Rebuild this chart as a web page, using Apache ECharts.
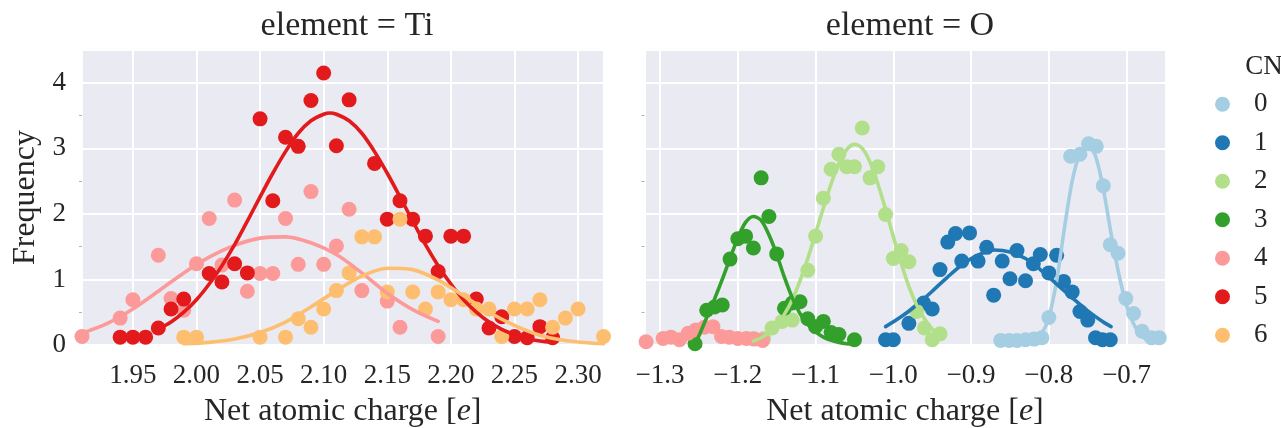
<!DOCTYPE html>
<html>
<head>
<meta charset="utf-8">
<script src="https://cdn.jsdelivr.net/npm/echarts@6/dist/echarts.min.js"></script>
<style>
  html, body { margin: 0; padding: 0; background: #ffffff; }
  #chart { width: 1281px; height: 428px; }
</style>
</head>
<body>
<div id="chart"></div>
<script>
// Net atomic charge histograms (frequency) per coordination number (CN),
// with fitted curves, for Ti and O atoms.

const cnLabels = ['0', '1', '2', '3', '4', '5', '6'];
const cnColors = ['#a6cee3', '#1f78b4', '#b2df8a', '#33a02c', '#fb9a99', '#e31a1c', '#fdbf6f'];
const panelTitles = ['element = Ti', 'element = O'];

// ---- element = Ti ----
const tiCN4Points = [[1.91,0.13],[1.94,0.41],[1.95,0.69],[1.97,1.37],[1.98,0.71],[1.99,0.53],[2.00,1.24],[2.01,1.93],[2.02,1.22],[2.03,2.21],[2.04,0.82],[2.05,1.09],[2.06,1.09],[2.07,1.93],[2.08,1.23],[2.09,2.34],[2.10,1.23],[2.11,1.51],[2.12,2.07],[2.13,0.83],[2.15,0.67],[2.16,0.27],[2.19,0.13]];
const tiCN4Fit = [[1.91,0.18],[1.93,0.33],[1.95,0.55],[1.97,0.82],[1.99,1.10],[2.01,1.34],[2.03,1.52],[2.05,1.63],[2.07,1.65],[2.09,1.56],[2.11,1.38],[2.13,1.10],[2.15,0.79],[2.17,0.54],[2.19,0.36]];

const tiCN5Points = [[1.94,0.12],[1.95,0.12],[1.96,0.12],[1.97,0.26],[1.98,0.55],[1.99,0.70],[2.01,1.09],[2.02,0.96],[2.03,1.24],[2.04,1.10],[2.05,3.45],[2.06,2.20],[2.07,3.17],[2.08,3.03],[2.09,3.73],[2.10,4.15],[2.11,3.04],[2.12,3.74],[2.14,2.77],[2.15,1.92],[2.16,2.20],[2.17,1.92],[2.18,1.66],[2.19,1.12],[2.20,1.66],[2.21,1.66],[2.22,0.70],[2.23,0.26],[2.24,0.43],[2.25,0.13],[2.26,0.11],[2.27,0.28],[2.28,0.11]];
const tiCN5Fit = [[1.97,0.24],[1.98,0.35],[1.99,0.50],[2.00,0.69],[2.01,0.93],[2.02,1.21],[2.03,1.53],[2.04,1.89],[2.05,2.26],[2.06,2.62],[2.07,2.95],[2.08,3.23],[2.09,3.42],[2.10,3.52],[2.105,3.54],[2.11,3.52],[2.12,3.42],[2.13,3.23],[2.14,2.95],[2.15,2.62],[2.16,2.26],[2.17,1.89],[2.18,1.53],[2.19,1.21],[2.20,0.93],[2.21,0.69],[2.22,0.50],[2.23,0.35],[2.24,0.24],[2.25,0.16],[2.26,0.10],[2.27,0.06],[2.28,0.04]];

const tiCN6Points = [[1.99,0.12],[2.00,0.12],[2.05,0.12],[2.07,0.12],[2.08,0.40],[2.09,0.27],[2.10,0.55],[2.11,0.83],[2.12,1.10],[2.13,1.65],[2.14,1.65],[2.15,0.81],[2.16,1.92],[2.17,0.81],[2.18,0.55],[2.19,0.81],[2.20,0.69],[2.21,0.69],[2.22,0.55],[2.23,0.55],[2.24,0.13],[2.25,0.55],[2.26,0.55],[2.27,0.69],[2.28,0.27],[2.29,0.41],[2.30,0.55],[2.32,0.13]];
const tiCN6Fit = [[1.99,0.02],[2.01,0.04],[2.03,0.09],[2.05,0.19],[2.07,0.35],[2.09,0.58],[2.11,0.83],[2.13,1.05],[2.15,1.17],[2.17,1.15],[2.19,0.99],[2.21,0.75],[2.23,0.50],[2.25,0.30],[2.27,0.15],[2.29,0.07],[2.31,0.03],[2.32,0.02]];

// ---- element = O ----
const oCN0Points = [[-0.862,0.07],[-0.851,0.07],[-0.841,0.07],[-0.830,0.08],[-0.819,0.09],[-0.809,0.11],[-0.800,0.42],[-0.772,2.88],[-0.760,2.91],[-0.749,3.07],[-0.739,3.03],[-0.730,2.43],[-0.721,1.53],[-0.711,1.40],[-0.701,0.71],[-0.691,0.48],[-0.680,0.21],[-0.668,0.11],[-0.658,0.11]];
const oCN0Fit = [[-0.86,0.02],[-0.85,0.02],[-0.84,0.03],[-0.83,0.04],[-0.82,0.07],[-0.81,0.16],[-0.80,0.42],[-0.79,0.98],[-0.78,1.78],[-0.77,2.50],[-0.76,2.92],[-0.75,3.04],[-0.74,2.88],[-0.73,2.38],[-0.72,1.70],[-0.71,1.08],[-0.70,0.60],[-0.69,0.30],[-0.68,0.13],[-0.67,0.06],[-0.66,0.03]];

const oCN1Points = [[-1.010,0.08],[-1.000,0.08],[-0.980,0.33],[-0.961,0.64],[-0.950,0.55],[-0.940,1.15],[-0.930,1.57],[-0.920,1.70],[-0.912,1.28],[-0.902,1.71],[-0.891,1.28],[-0.880,1.49],[-0.871,0.76],[-0.860,1.28],[-0.850,1.01],[-0.841,1.44],[-0.830,0.98],[-0.820,1.24],[-0.811,1.38],[-0.800,1.10],[-0.790,1.37],[-0.781,0.97],[-0.770,0.81],[-0.760,0.51],[-0.750,0.38],[-0.740,0.11],[-0.731,0.08],[-0.721,0.08]];
const oCN1Fit = [[-1.01,0.28],[-0.99,0.43],[-0.97,0.61],[-0.95,0.82],[-0.93,1.04],[-0.91,1.24],[-0.89,1.38],[-0.87,1.45],[-0.85,1.42],[-0.83,1.32],[-0.81,1.14],[-0.79,0.93],[-0.77,0.72],[-0.75,0.52],[-0.73,0.35],[-0.72,0.28]];

const oCN2Points = [[-1.180,0.10],[-1.167,0.10],[-1.156,0.26],[-1.143,0.36],[-1.130,0.38],[-1.110,1.14],[-1.100,1.66],[-1.090,2.24],[-1.080,2.68],[-1.070,2.91],[-1.060,2.72],[-1.050,2.72],[-1.040,3.31],[-1.030,2.55],[-1.020,2.72],[-1.010,1.99],[-1.000,1.32],[-0.990,1.44],[-0.980,1.27],[-0.970,0.51],[-0.960,0.26],[-0.950,0.08],[-0.940,0.17]];
const oCN2Fit = [[-1.18,0.06],[-1.17,0.11],[-1.16,0.19],[-1.15,0.30],[-1.14,0.47],[-1.13,0.69],[-1.12,0.98],[-1.11,1.32],[-1.10,1.70],[-1.09,2.09],[-1.08,2.46],[-1.07,2.77],[-1.06,2.98],[-1.05,3.06],[-1.04,3.00],[-1.03,2.79],[-1.02,2.46],[-1.01,2.07],[-1.00,1.65],[-0.99,1.25],[-0.98,0.89],[-0.97,0.61],[-0.96,0.40],[-0.95,0.24],[-0.945,0.19]];

const oCN3Points = [[-1.255,0.02],[-1.240,0.53],[-1.230,0.58],[-1.220,0.61],[-1.210,1.31],[-1.200,1.62],[-1.190,1.66],[-1.180,1.48],[-1.170,2.55],[-1.160,1.96],[-1.150,1.39],[-1.140,0.56],[-1.130,0.64],[-1.120,0.66],[-1.110,0.40],[-1.100,0.28],[-1.090,0.36],[-1.080,0.19],[-1.070,0.16],[-1.050,0.08]];
const oCN3Fit = [[-1.255,0.02],[-1.25,0.14],[-1.24,0.42],[-1.23,0.70],[-1.22,1.00],[-1.21,1.32],[-1.20,1.63],[-1.19,1.87],[-1.18,1.96],[-1.17,1.90],[-1.16,1.68],[-1.15,1.38],[-1.14,1.03],[-1.13,0.72],[-1.12,0.48],[-1.11,0.31],[-1.10,0.20],[-1.09,0.12],[-1.08,0.07],[-1.07,0.04],[-1.06,0.02],[-1.05,0.01]];

const oCN4Points = [[-1.318,0.05],[-1.296,0.10],[-1.286,0.12],[-1.275,0.08],[-1.264,0.18],[-1.254,0.23],[-1.243,0.27],[-1.232,0.28],[-1.221,0.13],[-1.211,0.12],[-1.200,0.10],[-1.189,0.10],[-1.179,0.09],[-1.168,0.07]];

// ---- layout & style ----
const FONT = 'Liberation Serif';
const INK = '#262626';
const BG = '#eaeaf2';
const DOT = 15;
const LINE_W = 3.6;

function xAxisFor(gridIndex, min, max, splitNumber, fmt) {
  return {
    type: 'value', gridIndex, min, max, splitNumber,
    axisLine: { show: false },
    axisTick: { show: false },
    splitLine: { show: true, lineStyle: { color: '#ffffff', width: 2 } },
    axisLabel: {
      show: true, color: INK, fontFamily: FONT, fontSize: 27, margin: 17,
      showMinLabel: false, showMaxLabel: false, formatter: fmt
    },
    name: '{t|Net atomic charge [}{i|e}{t|]}',
    nameLocation: 'middle', nameGap: 51,
    nameTextStyle: {
      rich: {
        t: { fontFamily: FONT, fontSize: 32, color: INK },
        i: { fontFamily: FONT, fontSize: 32, color: INK, fontStyle: 'italic' }
      }
    }
  };
}

function yAxisFor(gridIndex, showLabels) {
  return {
    type: 'value', gridIndex, min: 0, max: 4.5, interval: 1,
    axisLine: { show: false },
    axisTick: { show: false },
    minorTick: { show: true, splitNumber: 2, length: 3, lineStyle: { color: '#b0b0b8', width: 1 } },
    splitLine: { show: true, lineStyle: { color: '#ffffff', width: 2 } },
    axisLabel: {
      show: showLabels, color: INK, fontFamily: FONT, fontSize: 27, margin: 16,
      showMaxLabel: false, formatter: v => String(Math.round(v))
    },
    name: showLabels ? 'Frequency' : '',
    nameLocation: 'middle', nameGap: 40,
    nameTextStyle: { fontFamily: FONT, fontSize: 32, color: INK }
  };
}

function scatterSeries(name, data, axisIdx) {
  return {
    type: 'scatter', name, data,
    xAxisIndex: axisIdx, yAxisIndex: axisIdx,
    symbol: 'circle', symbolSize: DOT,
    itemStyle: { color: cnColors[+name], opacity: 1 },
    emphasis: { disabled: true }, silent: true
  };
}

function fitSeries(name, data, axisIdx) {
  return {
    type: 'line', name, data,
    xAxisIndex: axisIdx, yAxisIndex: axisIdx,
    showSymbol: false, smooth: 0.3,
    lineStyle: { color: cnColors[+name], width: LINE_W, cap: 'round', join: 'round' },
    itemStyle: { color: cnColors[+name] },
    emphasis: { disabled: true }, silent: true
  };
}

const fmtTi = v => v.toFixed(2);
const fmtO = v => (v < -1e-9 ? '\u2212' : '') + Math.abs(v).toFixed(1);

const option = {
  animation: false,
  backgroundColor: '#ffffff',
  title: [
    { text: panelTitles[0], left: 342, top: 4, textAlign: 'center',
      textStyle: { fontFamily: FONT, fontSize: 34, fontWeight: 'normal', color: INK } },
    { text: panelTitles[1], left: 905, top: 4, textAlign: 'center',
      textStyle: { fontFamily: FONT, fontSize: 34, fontWeight: 'normal', color: INK } },
    { text: 'CN', left: 1259, top: 48, textAlign: 'center',
      textStyle: { fontFamily: FONT, fontSize: 27, fontWeight: 'normal', color: INK } }
  ],
  legend: {
    orient: 'vertical', left: 1210, top: 80,
    itemWidth: 15, itemHeight: 15, itemGap: 0,
    icon: 'circle', selectedMode: false,
    data: cnLabels,
    textStyle: { fontFamily: FONT, fontSize: 27, color: INK, lineHeight: 38.5, padding: [0, 0, 0, 19] }
  },
  grid: [
    { left: 82, top: 50, width: 521.5, height: 295, backgroundColor: BG, show: true, borderWidth: 0, outerBoundsMode: 'none' },
    { left: 644.5, top: 50, width: 521, height: 295, backgroundColor: BG, show: true, borderWidth: 0, outerBoundsMode: 'none' }
  ],
  xAxis: [
    xAxisFor(0, 1.91, 2.32, 8, fmtTi),
    xAxisFor(1, -1.32, -0.65, 7, fmtO)
  ],
  yAxis: [
    yAxisFor(0, true),
    yAxisFor(1, false)
  ],
  series: [
    scatterSeries('4', tiCN4Points, 0), fitSeries('4', tiCN4Fit, 0),
    scatterSeries('5', tiCN5Points, 0), fitSeries('5', tiCN5Fit, 0),
    scatterSeries('6', tiCN6Points, 0), fitSeries('6', tiCN6Fit, 0),

    scatterSeries('0', oCN0Points, 1), fitSeries('0', oCN0Fit, 1),
    scatterSeries('1', oCN1Points, 1), fitSeries('1', oCN1Fit, 1),
    scatterSeries('2', oCN2Points, 1), fitSeries('2', oCN2Fit, 1),
    scatterSeries('3', oCN3Points, 1), fitSeries('3', oCN3Fit, 1),
    scatterSeries('4', oCN4Points, 1)
  ]
};

const chart = echarts.init(document.getElementById('chart'), null, { renderer: 'canvas' });
chart.setOption(option);
</script>
</body>
</html>
